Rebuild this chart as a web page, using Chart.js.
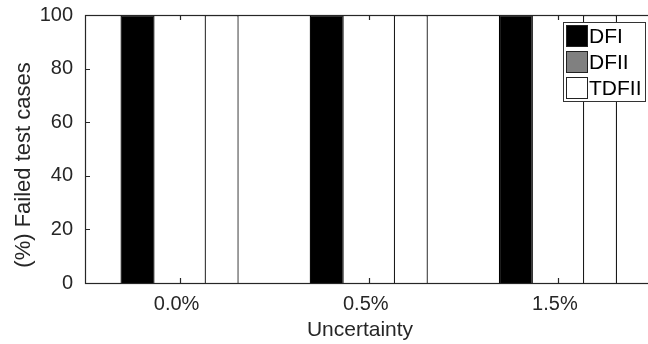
<!DOCTYPE html>
<html>
<head>
<meta charset="utf-8">
<script src="https://cdn.jsdelivr.net/npm/chart.js@4.4.1/dist/chart.umd.min.js"></script>
<style>
  html, body { margin: 0; padding: 0; background: #fff; overflow: hidden; }
  #wrap { width: 648px; height: 344px; overflow: hidden; }
  canvas { display: block; }
</style>
</head>
<body>
<div id="wrap"><canvas id="c" width="660" height="344"></canvas></div>
<script>
// Failed test cases (%) per filter structure, grouped by coefficient uncertainty
const uncertaintyLabels = ['0.0%', '0.5%', '1.5%'];
const dfiFailed = [100, 100, 100];
const dfiiFailed = [0, 0, 0];
const tdfiiFailed = [100, 100, 100];
const seriesNames = ['DFI', 'DFII', 'TDFII'];
const xTitle = 'Uncertainty';
const yTitle = '(%) Failed test cases';

const FONT = '"Liberation Sans", Arial, Helvetica, sans-serif';
const AXIS_COLOR = '#262626';
const TEXT_COLOR = '#262626';

// Axes box with inward-pointing ticks
const boxAndTicks = {
  id: 'boxAndTicks',
  afterDatasetsDraw(chart) {
    const { ctx, chartArea: a, scales } = chart;
    ctx.save();
    ctx.strokeStyle = AXIS_COLOR;
    ctx.lineWidth = 1.2;
    ctx.beginPath();
    scales.y.ticks.forEach((t, i) => {
      const y = Math.round(scales.y.getPixelForTick(i)) + 0.5;
      ctx.moveTo(a.left, y); ctx.lineTo(a.left + 5, y);
    });
    scales.x.ticks.forEach((t, i) => {
      const x = Math.round(scales.x.getPixelForTick(i)) + 0.5;
      ctx.moveTo(x, a.bottom); ctx.lineTo(x, a.bottom - 5);
      ctx.moveTo(x, a.top); ctx.lineTo(x, a.top + 5);
    });
    ctx.stroke();
    ctx.strokeRect(Math.round(a.left) + 0.5, Math.round(a.top) + 0.5,
                   Math.round(a.right - a.left), Math.round(a.bottom - a.top));
    ctx.restore();
  }
};

// Axis titles, placed relative to the figure
const axisTitles = {
  id: 'axisTitles',
  afterDraw(chart) {
    const { ctx } = chart;
    ctx.save();
    ctx.fillStyle = TEXT_COLOR;
    ctx.textAlign = 'center';
    ctx.textBaseline = 'middle';
    ctx.font = '21px ' + FONT;
    ctx.fillText(xTitle, 360, 330);
    ctx.translate(24, 165);
    ctx.rotate(-Math.PI / 2);
    ctx.font = '22px ' + FONT;
    ctx.fillText(yTitle, 0, 0);
    ctx.restore();
  }
};

// Boxed legend in the upper-right corner, drawn over the bars
const boxedLegend = {
  id: 'boxedLegend',
  afterDraw(chart) {
    const { ctx } = chart;
    const x0 = 563, y0 = 22, w = 82, h = 79;
    ctx.save();
    ctx.fillStyle = '#fff';
    ctx.fillRect(x0, y0, w, h);
    ctx.strokeStyle = '#333';
    ctx.lineWidth = 1;
    ctx.strokeRect(x0 + 0.5, y0 + 0.5, w, h);
    ctx.font = '21px ' + FONT;
    ctx.textBaseline = 'middle';
    ctx.textAlign = 'left';
    chart.data.datasets.forEach((ds, i) => {
      const sy = 25 + i * 26;
      ctx.fillStyle = ds.backgroundColor;
      ctx.fillRect(566, sy, 22, 22);
      ctx.strokeStyle = '#222';
      ctx.strokeRect(566.5, sy + 0.5, 21, 21);
      ctx.fillStyle = '#000';
      ctx.fillText(ds.label, 589, sy + 12);
    });
    ctx.restore();
  }
};

new Chart(document.getElementById('c'), {
  type: 'bar',
  data: {
    labels: uncertaintyLabels,
    datasets: [
      { label: seriesNames[0], data: dfiFailed, backgroundColor: '#000000', borderColor: '#000000', borderWidth: 1.3 },
      { label: seriesNames[1], data: dfiiFailed, backgroundColor: '#808080', borderColor: '#1a1a1a', borderWidth: 1.3 },
      { label: seriesNames[2], data: tdfiiFailed, backgroundColor: '#ffffff', borderColor: '#1a1a1a', borderWidth: 1.3 }
    ]
  },
  options: {
    responsive: false,
    animation: false,
    layout: { padding: { left: 0, right: 7.5, top: 15, bottom: 0 } },
    datasets: { bar: { categoryPercentage: 0.667, barPercentage: 0.81 } },
    plugins: { legend: { display: false }, tooltip: { enabled: false } },
    scales: {
      x: {
        offset: true,
        grid: { display: false, drawTicks: false, tickLength: 0 },
        border: { display: false },
        ticks: { color: TEXT_COLOR, font: { family: FONT, size: 20 }, padding: 9, labelOffset: -3, maxRotation: 0 },
        title: { display: false },
        afterFit(s) { s.height = 61; s.paddingLeft = 0; s.paddingRight = 0; }
      },
      y: {
        min: 0, max: 100,
        grid: { display: false, drawTicks: false, tickLength: 0 },
        border: { display: false },
        ticks: { stepSize: 20, color: TEXT_COLOR, font: { family: FONT, size: 20 }, padding: 12 },
        title: { display: false },
        afterFit(s) { s.width = 85; s.paddingTop = 0; s.paddingBottom = 0; }
      }
    }
  },
  plugins: [boxAndTicks, boxedLegend, axisTitles]
});
</script>
</body>
</html>
